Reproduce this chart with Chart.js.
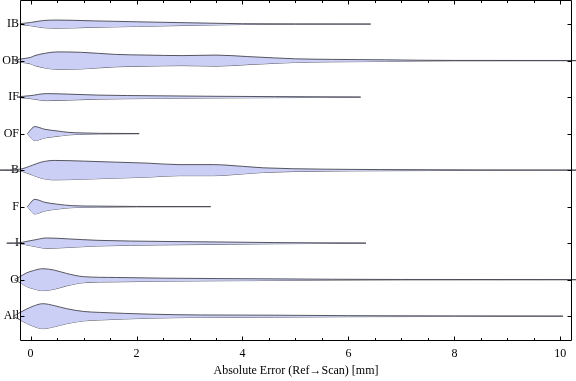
<!DOCTYPE html>
<html>
<head>
<meta charset="utf-8">
<script src="https://cdn.jsdelivr.net/npm/chart.js@4/dist/chart.umd.min.js"></script>
<style>
html,body{margin:0;padding:0;background:#fff;}
#wrap{width:576px;height:381px;}
</style>
</head>
<body>
<div id="wrap"><canvas id="c" width="576" height="381"></canvas></div>
<script>
// ---- data ----
const categories = ['IB','OB','IF','OF','B','F','I','O','All'];
const xTicks = [0, 2, 4, 6, 8, 10];
const axisTitle = 'Absolute Error (Ref\u2192Scan) [mm]';

// error values (mm) at which the violin half-width (density) was read
const ibErr  = [-0.2, 0, 0.25, 0.5, 0.8, 1.2, 2, 2.8, 3.5, 4, 5, 6.42];
const ibDen  = [0.011, 0.044, 0.099, 0.110, 0.104, 0.088, 0.063, 0.041, 0.022, 0.011, 0.005, 0.003];

const obErr  = [-0.3, -0.2, 0, 0.08, 0.27, 0.5, 0.96, 1.6, 2.2, 2.86, 3.5, 4.1, 4.6, 5, 5.7, 6.7, 7.3, 8, 10.3];
const obDen  = [0.008, 0.041, 0.088, 0.137, 0.200, 0.238, 0.227, 0.170, 0.151, 0.137, 0.151, 0.110, 0.074, 0.049, 0.033, 0.022, 0.011, 0.005, 0.003];

const ifErr  = [-0.6, -0.25, -0.2, 0, 0.3, 0.7, 1.27, 2.4, 3.5, 4.6, 5.5, 6.23];
const ifDen  = [0.003, 0.003, 0.014, 0.041, 0.096, 0.082, 0.055, 0.036, 0.022, 0.014, 0.008, 0.003];

const ofErr  = [-0.06, 0.08, 0.27, 0.5, 0.7, 0.97, 1.3, 2.05];
const ofDen  = [0.0, 0.192, 0.118, 0.074, 0.036, 0.019, 0.008, 0.003];

const bErr   = [-0.6, -0.2, 0.04, 0.2, 0.45, 1, 1.6, 2.2, 2.8, 3.45, 4.0, 4.4, 5.5, 6.6, 7.5, 8.5, 10.3];
const bDen   = [0.003, 0.027, 0.137, 0.219, 0.266, 0.247, 0.219, 0.192, 0.151, 0.151, 0.104, 0.063, 0.027, 0.016, 0.011, 0.005, 0.003];

const fErr   = [-0.06, 0.08, 0.27, 0.5, 0.78, 1.27, 2, 3.4];
const fDen   = [0.0, 0.200, 0.118, 0.068, 0.027, 0.014, 0.005, 0.003];

const iErr   = [-0.45, -0.2, -0.1, 0.1, 0.3, 0.7, 1.27, 2.5, 3.5, 4.6, 5.5, 6.33];
const iDen   = [0.003, 0.014, 0.041, 0.096, 0.142, 0.118, 0.077, 0.047, 0.033, 0.016, 0.008, 0.003];

const oErr   = [-0.6, -0.3, -0.2, -0.08, 0.05, 0.23, 0.45, 0.68, 1.0, 1.6, 2.5, 3.5, 4.6, 5.7, 7, 10.3];
const oDen   = [0.003, 0.014, 0.082, 0.184, 0.247, 0.301, 0.260, 0.170, 0.082, 0.060, 0.041, 0.030, 0.022, 0.011, 0.005, 0.003];

const allErr = [-0.32, -0.2, -0.08, 0.05, 0.23, 0.45, 0.68, 1.0, 1.3, 2.25, 3.2, 4.6, 6, 8, 10.05];
const allDen = [0.005, 0.101, 0.192, 0.274, 0.342, 0.288, 0.205, 0.129, 0.104, 0.055, 0.033, 0.027, 0.014, 0.008, 0.003];

const violinErr = [ibErr, obErr, ifErr, ofErr, bErr, fErr, iErr, oErr, allErr];
const violinDen = [ibDen, obDen, ifDen, ofDen, bDen, fDen, iDen, oDen, allDen];

// ---- build datasets ----
const FILL = 'rgb(203,207,245)';
const EDGE = 'rgba(70,70,80,0.9)';
const datasets = [];
categories.forEach((cat, i) => {
  const pos = categories.length - i;
  const xs = violinErr[i], ds = violinDen[i];
  datasets.push({
    label: cat + ' upper',
    data: xs.map((x, k) => ({x: x, y: pos + ds[k]})),
    borderColor: EDGE, borderWidth: 1, backgroundColor: FILL,
    fill: '+1', pointRadius: 0, cubicInterpolationMode: 'monotone', clip: false
  });
  datasets.push({
    label: cat + ' lower',
    data: xs.map((x, k) => ({x: x, y: pos - ds[k]})),
    borderColor: EDGE, borderWidth: 1, backgroundColor: FILL,
    fill: false, pointRadius: 0, cubicInterpolationMode: 'monotone', clip: false
  });
});

// frame + ticks (Mathematica style) drawn via the chart's scales
const framePlugin = {
  id: 'frame',
  afterDatasetsDraw(chart) {
    const {ctx, chartArea: a, scales: {x, y}} = chart;
    ctx.save();
    ctx.strokeStyle = '#000';
    ctx.lineWidth = 1;
    ctx.beginPath();
    const L = Math.round(a.left) + 0.5, R = Math.round(a.right) - 0.5;
    const T = Math.round(a.top) + 0.5, B = Math.round(a.bottom) - 0.5;
    ctx.rect(L, T, R - L, B - T);
    // x ticks major/minor, top and bottom
    for (let v = 0; v <= 10.001; v += 0.5) {
      const px = Math.round(x.getPixelForValue(v)) + 0.5;
      const major = Math.abs(v / 2 - Math.round(v / 2)) < 1e-6;
      const len = major ? 4 : 2.5;
      ctx.moveTo(px, B); ctx.lineTo(px, B - len);
      ctx.moveTo(px, T); ctx.lineTo(px, T + len);
    }
    // y ticks at categories
    for (let p = 1; p <= categories.length; p++) {
      const py = Math.round(y.getPixelForValue(p)) + 0.5;
      ctx.moveTo(L, py); ctx.lineTo(L + 4, py);
      ctx.moveTo(R, py); ctx.lineTo(R - 4, py);
    }
    ctx.stroke();
    ctx.restore();
  }
};

const serif = "'Liberation Serif', 'Times New Roman', serif";

new Chart(document.getElementById('c'), {
  type: 'line',
  data: {datasets},
  options: {
    responsive: false,
    animation: false,
    devicePixelRatio: 1,
    layout: {padding: {left: 0, right: 4, top: 0, bottom: 0}},
    plugins: {legend: {display: false}, tooltip: {enabled: false}},
    scales: {
      x: {
        type: 'linear', min: -0.2, max: 10.22,
        afterBuildTicks: s => { s.ticks = xTicks.map(v => ({value: v})); },
        afterFit: s => { s.height = 40; s.paddingLeft = 0; s.paddingRight = 0; },
        grid: {display: false, drawTicks: false},
        border: {display: false},
        ticks: {color: '#000', padding: 6, font: {family: serif, size: 12}, maxRotation: 0},
        title: {display: true, text: axisTitle, color: '#000', font: {family: serif, size: 12}, padding: {top: 0, bottom: 3}}
      },
      y: {
        type: 'linear', min: 0.32, max: 9.66,
        afterBuildTicks: s => { s.ticks = categories.map((c, i) => ({value: categories.length - i})); },
        afterFit: s => { s.width = 20; s.paddingTop = 0; s.paddingBottom = 0; },
        grid: {display: false, drawTicks: false},
        border: {display: false},
        ticks: {
          color: '#000', padding: 1, font: {family: serif, size: 12},
          callback: v => categories[categories.length - v]
        }
      }
    }
  },
  plugins: [framePlugin]
});
</script>
</body>
</html>
